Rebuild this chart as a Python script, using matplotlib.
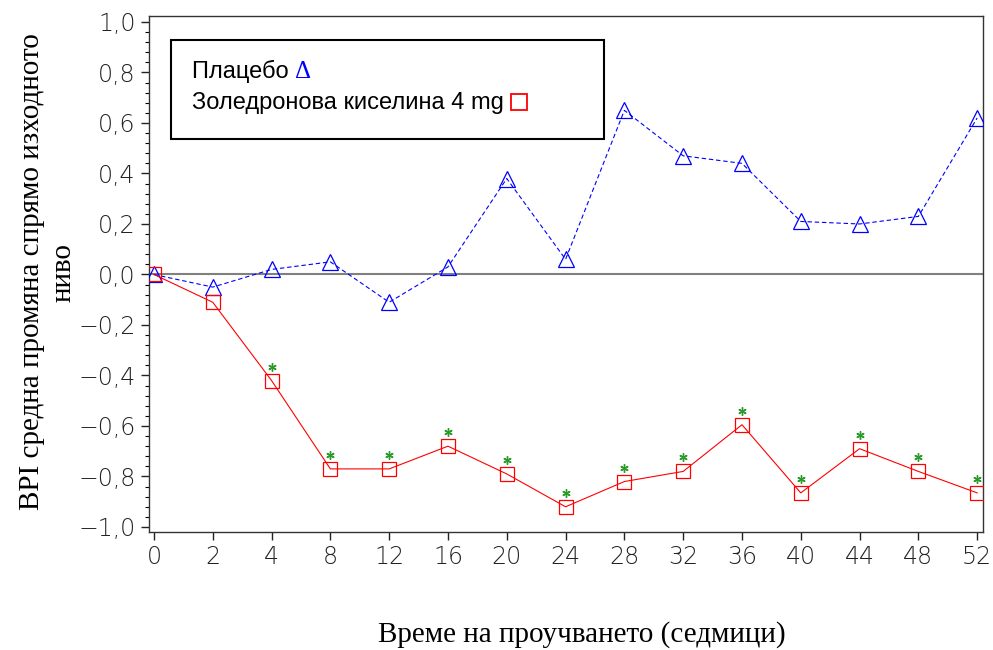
import matplotlib
matplotlib.use('Agg')
import matplotlib.pyplot as plt
from matplotlib.patches import Rectangle
from matplotlib.ticker import MultipleLocator, FuncFormatter
from matplotlib.transforms import offset_copy

weeks = ['0', '2', '4', '8', '12', '16', '20', '24', '28', '32', '36', '40', '44', '48', '52']
placebo = [0.0, -0.05, 0.02, 0.05, -0.11, 0.03, 0.38, 0.06, 0.65, 0.47, 0.44, 0.21, 0.20, 0.23, 0.62]
zoledronic = [0.0, -0.11, -0.42, -0.77, -0.77, -0.68, -0.79, -0.92, -0.82, -0.78, -0.595, -0.865, -0.69, -0.78, -0.865]
significant = [False, False, True, True, True, True, True, True, True, True, True, True, True, True, True]

fig = plt.figure(figsize=(9.93, 6.5), dpi=100)
ax = fig.add_axes([0.150, 0.1815, 0.840, 0.794])

x = list(range(len(weeks)))
ax.axhline(0, color='#808080', lw=1.5, zorder=1)
ax.plot(x, placebo, color='blue', lw=0.8, ls=(0, (4, 2.5)), marker='^', ms=11,
        mfc='none', mec='blue', mew=0.9, zorder=3)
ax.plot(x, zoledronic, color='red', lw=0.8, marker='s', ms=10,
        mfc='none', mec='red', mew=0.9, zorder=3)

# significance asterisks, a few pixels above each square
star_tr = offset_copy(ax.transData, fig=fig, x=0, y=14, units='dots')
sx = [xi for xi, s in zip(x, significant) if s]
sy = [yi for yi, s in zip(zoledronic, significant) if s]
ax.plot(sx, sy, ls='none', marker=(6, 2, 0), ms=6, mew=1.0, color='#2a9a2a',
        transform=star_tr, zorder=4)

ax.set_xlim(-0.085, 14.1)
ax.set_ylim(-1.02, 1.024)
ax.set_xticks(x)
ax.set_xticklabels(weeks)
ax.yaxis.set_major_locator(MultipleLocator(0.2))
ax.yaxis.set_minor_locator(MultipleLocator(0.04))
ax.yaxis.set_major_formatter(FuncFormatter(
    lambda v, p: ('%.1f' % v).replace('.', ',').replace('-', '\u2212') if abs(v) > 1e-9 else '0,0'))
ax.tick_params(axis='both', labelsize=17, length=6, width=1, colors='#222222')
ax.tick_params(axis='y', which='minor', length=3, width=0.8)
for lab in ax.get_xticklabels() + ax.get_yticklabels():
    lab.set_family('DejaVu Sans')
    lab.set_fontweight('light')
for sp in ax.spines.values():
    sp.set_linewidth(1)
    sp.set_color('#333333')

# legend box
ax.add_patch(Rectangle((0.026, 0.7616), 0.519, 0.192, transform=ax.transAxes,
                       fill=False, ec='black', lw=1.5, zorder=5))
t1 = ax.text(0.0514, 0.880, 'Плацебо ', transform=ax.transAxes, ha='left', va='baseline',
             fontsize=17, family='Liberation Sans')
t2 = ax.text(0.0514, 0.831, 'Золедронова киселина 4 mg ', transform=ax.transAxes,
             ha='left', va='center', fontsize=17, family='Liberation Sans')
fig.canvas.draw()
inv = ax.transAxes.inverted()
e1 = inv.transform(t1.get_window_extent())
e2 = inv.transform(t2.get_window_extent())
ax.text(e1[1][0], 0.880, '\u0394', transform=ax.transAxes, ha='left', va='baseline',
        fontsize=18, color='blue', family='Liberation Serif')
ax.plot([e2[1][0] + 0.011], [0.833], transform=ax.transAxes, marker='s', ms=12,
        mfc='none', mec='red', mew=1.3, clip_on=False)

fig.text(48 / 993, 1 - 272 / 650, 'BPI средна промяна спрямо изходното\nниво', rotation=90,
         ha='center', va='center', multialignment='center', fontsize=21,
         family='Liberation Serif', linespacing=1.3)
fig.text(582 / 993, 1 - 635 / 650, 'Време на проучването (седмици)', ha='center', va='center',
         fontsize=21, family='Liberation Serif')

fig.savefig('out.png', dpi=100)
